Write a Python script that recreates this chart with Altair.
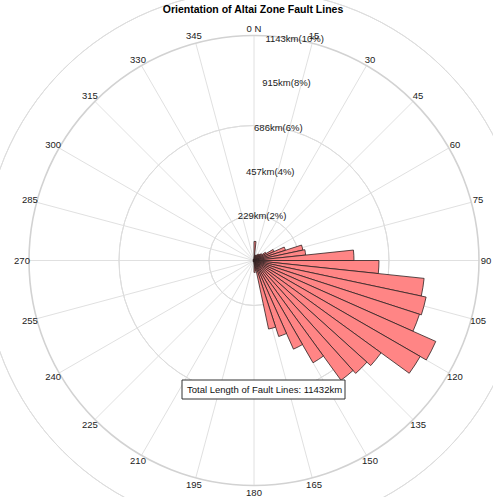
import math
import altair as alt
import pandas as pd

# Fault-line length (km) per 6-degree strike bin, starting at 0 (N) and going clockwise
bin_width = 6
bin_starts = list(range(0, 360, bin_width))
lengths_km = [
    97, 25, 25, 30, 30, 36, 41, 46, 51, 71,
    112, 168, 254, 264, 508, 635, 869, 894, 884, 1011,
    975, 798, 772, 752, 600, 493, 406, 356, 51, 61,
    5, 4, 3, 4, 3, 4, 5, 4, 3, 4,
    3, 4, 5, 4, 3, 4, 5, 4, 3, 4,
    4, 3, 4, 5, 4, 3, 4, 4, 3, 5,
]

ring_pcts = [2, 4, 6, 8, 10]
compass_angles = list(range(0, 360, 15))
compass_labels = ["0 N"] + [str(a) for a in compass_angles[1:]]

total_km = sum(lengths_km)
r_max = total_km * 0.10

# canvas and polar centre
W, H = 493, 497
CX, CY = 254, 260.5
R_PX = 225
px_per_km = R_PX / r_max
FONT = "Liberation Sans"

bars_df = pd.DataFrame({
    "start": bin_starts,
    "end": [s + bin_width for s in bin_starts],
    "km": lengths_km,
})
rings_df = pd.DataFrame({
    "r": [total_km * p / 100 for p in ring_pcts],
    "label": [f"{round(total_km * p / 100)}km({p}%)" for p in ring_pcts],
})
spokes_df = pd.DataFrame({
    "angle": compass_angles,
    "x0": 0.0,
    "y0": 0.0,
    "x1": [r_max * math.sin(math.radians(a)) for a in compass_angles],
    "y1": [r_max * math.cos(math.radians(a)) for a in compass_angles],
})
compass_df = pd.DataFrame({"angle": compass_angles, "label": compass_labels})

theta_scale = alt.Scale(domain=[0, 360], range=[0, 2 * math.pi])
radius_scale = alt.Scale(type="linear", domain=[0, r_max], range=[0, R_PX], zero=True, nice=False)
x_scale = alt.Scale(domain=[-CX / px_per_km, (W - CX) / px_per_km], nice=False, zero=False)
y_scale = alt.Scale(domain=[-(H - CY) / px_per_km, CY / px_per_km], nice=False, zero=False)

grid_color = "#dddddd"

spokes = alt.Chart(spokes_df).mark_rule(color=grid_color, strokeWidth=0.9).encode(
    x=alt.X("x0:Q", scale=x_scale, axis=None),
    y=alt.Y("y0:Q", scale=y_scale, axis=None),
    x2="x1:Q",
    y2="y1:Q",
)

rings = alt.Chart(rings_df).mark_arc(filled=False, stroke=grid_color, strokeWidth=1).encode(
    theta=alt.value(0),
    theta2=alt.value(2 * math.pi),
    radius=alt.Radius("r:Q", scale=radius_scale),
    x=alt.value(CX),
    y=alt.value(CY),
)

outer = alt.Chart(rings_df.tail(1)).mark_arc(filled=False, stroke="#d2d2d2", strokeWidth=1.6).encode(
    theta=alt.value(0),
    theta2=alt.value(2 * math.pi),
    radius=alt.Radius("r:Q", scale=radius_scale),
    x=alt.value(CX),
    y=alt.value(CY),
)

ring_labels = alt.Chart(rings_df).mark_text(
    font=FONT, fontSize=9.5, color="#222222", align="center", baseline="middle"
).encode(
    theta=alt.value(math.radians(10.4)),
    radius=alt.Radius("r:Q", scale=radius_scale),
    text="label:N",
    x=alt.value(CX),
    y=alt.value(CY),
)

bars = alt.Chart(bars_df).mark_arc(fill="#ff8585", stroke="#2e2222", strokeWidth=0.8).encode(
    theta=alt.Theta("start:Q", scale=theta_scale, stack=False),
    theta2="end:Q",
    radius=alt.Radius("km:Q", scale=radius_scale),
    x=alt.value(CX),
    y=alt.value(CY),
)

compass = alt.Chart(compass_df).mark_text(
    font=FONT, fontSize=9.5, color="#222222", align="center", baseline="middle"
).encode(
    theta=alt.Theta("angle:Q", scale=theta_scale, stack=False),
    radius=alt.value(232),
    text="label:N",
    x=alt.value(CX),
    y=alt.value(CY),
)

title = alt.Chart(pd.DataFrame({"t": ["Orientation of Altai Zone Fault Lines"]})).mark_text(
    font=FONT, fontSize=10.5, fontWeight="bold", color="#000000", align="center", baseline="middle"
).encode(text="t:N", x=alt.value(253), y=alt.value(10))

summary_df = pd.DataFrame({"t": [f"Total Length of Fault Lines: {total_km}km"]})
box = alt.Chart(summary_df).mark_rect(fill="white", stroke="#333333", strokeWidth=1).encode(
    x=alt.value(182), x2=alt.value(345), y=alt.value(380), y2=alt.value(399)
)
box_text = alt.Chart(summary_df).mark_text(
    font=FONT, fontSize=9.5, color="#111111", align="left", baseline="middle"
).encode(text="t:N", x=alt.value(187), y=alt.value(389.5))

chart = alt.layer(
    spokes, rings, outer, ring_labels, bars, compass, title, box, box_text
).properties(
    width=W, height=H, autosize=alt.AutoSizeParams(type="none"), padding=0, background="white"
).configure_view(stroke=None)

chart.save("out.html", embed_options={"renderer": "svg", "actions": False})
